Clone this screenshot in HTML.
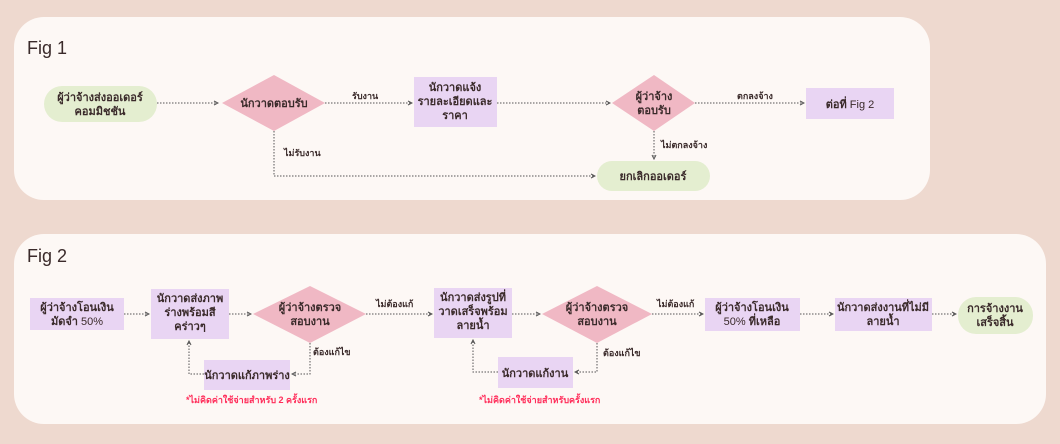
<!DOCTYPE html>
<html><head><meta charset="utf-8"><style>
html,body{margin:0;padding:0;background:#eed9cf;}
svg{display:block}
text{font-family:"Liberation Sans","DejaVu Sans",sans-serif;fill:#3a2a2a}
.b{font-weight:bold;font-size:11px}
.l{font-weight:bold;font-size:9px}
.r{font-weight:bold;font-size:9px;fill:#ff2d5a}
.ln{stroke:#555;stroke-width:1;stroke-dasharray:1.5 1.5;fill:none}
</style></head><body>
<svg width="1060" height="444" viewBox="0 0 1060 444" xmlns="http://www.w3.org/2000/svg">
<defs><marker id="a" markerWidth="6" markerHeight="6" refX="5" refY="3" orient="auto"><path d="M1,1 L5,3 L1,5" stroke="#555" fill="none" stroke-width="1"/></marker></defs>
<rect x="14" y="17" width="916" height="183" rx="30" fill="#fdf8f5"/>
<rect x="14" y="234" width="1032" height="190" rx="30" fill="#fdf8f5"/>
<text x="27" y="54" style="font-size:18px">Fig 1</text>
<text x="27" y="262" style="font-size:18px">Fig 2</text>

<!-- Fig1 -->
<rect x="44" y="86" width="113" height="36" rx="18" fill="#e4eed0"/>
<text class="b" text-anchor="middle" x="100" y="101">ผู้ว่าจ้างส่งออเดอร์</text>
<text class="b" text-anchor="middle" x="100" y="115">คอมมิชชัน</text>
<path class="ln" d="M157,103 H218" marker-end="url(#a)"/>
<polygon points="222,103 274,75 325,103 274,131" fill="#f0b8c4"/>
<text class="b" text-anchor="middle" x="274" y="107">นักวาดตอบรับ</text>
<text class="l" x="352" y="99">รับงาน</text>
<path class="ln" d="M325,103 H412" marker-end="url(#a)"/>
<rect x="414" y="77" width="83" height="50" fill="#e9d5f3"/>
<text class="b" text-anchor="middle" x="455" y="91">นักวาดแจ้ง</text>
<text class="b" text-anchor="middle" x="455" y="105">รายละเอียดและ</text>
<text class="b" text-anchor="middle" x="455" y="119">ราคา</text>
<path class="ln" d="M497,103 H610" marker-end="url(#a)"/>
<polygon points="612,103 654,75 695,103 654,131" fill="#f0b8c4"/>
<text class="b" text-anchor="middle" x="654" y="100">ผู้ว่าจ้าง</text>
<text class="b" text-anchor="middle" x="654" y="114">ตอบรับ</text>
<text class="l" x="737" y="99">ตกลงจ้าง</text>
<path class="ln" d="M695,103 H804" marker-end="url(#a)"/>
<rect x="806" y="88" width="88" height="31" fill="#e9d5f3"/>
<text class="b" text-anchor="middle" x="850" y="108">ต่อที่ <tspan style="font-weight:normal">Fig  2</tspan></text>
<path class="ln" d="M654,131 V159" marker-end="url(#a)"/>
<text class="l" x="661" y="148">ไม่ตกลงจ้าง</text>
<rect x="597" y="161" width="113" height="30" rx="15" fill="#e4eed0"/>
<text class="b" text-anchor="middle" x="653" y="180">ยกเลิกออเดอร์</text>
<path class="ln" d="M274,131 V176 H595" marker-end="url(#a)"/>
<text class="l" x="284" y="156">ไม่รับงาน</text>

<!-- Fig2 -->
<rect x="30" y="298" width="94" height="32" fill="#e9d5f3"/>
<text class="b" text-anchor="middle" x="77" y="311">ผู้ว่าจ้างโอนเงิน</text>
<text class="b" text-anchor="middle" x="77" y="325">มัดจำ <tspan style="font-weight:normal">50%</tspan></text>
<path class="ln" d="M124,314 H149" marker-end="url(#a)"/>
<rect x="151" y="289" width="78" height="50" fill="#e9d5f3"/>
<text class="b" text-anchor="middle" x="190" y="302">นักวาดส่งภาพ</text>
<text class="b" text-anchor="middle" x="190" y="316">ร่างพร้อมสี</text>
<text class="b" text-anchor="middle" x="190" y="330">คร่าวๆ</text>
<path class="ln" d="M229,314 H251" marker-end="url(#a)"/>
<polygon points="253,314 310,286 366,314 310,343" fill="#f0b8c4"/>
<text class="b" text-anchor="middle" x="310" y="311">ผู้ว่าจ้างตรวจ</text>
<text class="b" text-anchor="middle" x="310" y="325">สอบงาน</text>
<text class="l" x="376" y="307">ไม่ต้องแก้</text>
<path class="ln" d="M366,314 H432" marker-end="url(#a)"/>
<rect x="434" y="288" width="78" height="50" fill="#e9d5f3"/>
<text class="b" text-anchor="middle" x="473" y="301">นักวาดส่งรูปที่</text>
<text class="b" text-anchor="middle" x="473" y="315">วาดเสร็จพร้อม</text>
<text class="b" text-anchor="middle" x="473" y="329">ลายน้ำ</text>
<path class="ln" d="M512,314 H540" marker-end="url(#a)"/>
<polygon points="542,314 597,286 652,314 597,343" fill="#f0b8c4"/>
<text class="b" text-anchor="middle" x="597" y="311">ผู้ว่าจ้างตรวจ</text>
<text class="b" text-anchor="middle" x="597" y="325">สอบงาน</text>
<text class="l" x="657" y="307">ไม่ต้องแก้</text>
<path class="ln" d="M652,314 H703" marker-end="url(#a)"/>
<rect x="705" y="298" width="95" height="33" fill="#e9d5f3"/>
<text class="b" text-anchor="middle" x="752" y="311">ผู้ว่าจ้างโอนเงิน</text>
<text class="b" text-anchor="middle" x="752" y="325"><tspan style="font-weight:normal">50%</tspan> ที่เหลือ</text>
<path class="ln" d="M800,314 H833" marker-end="url(#a)"/>
<rect x="835" y="298" width="97" height="33" fill="#e9d5f3"/>
<text class="b" text-anchor="middle" x="883" y="311">นักวาดส่งงานที่ไม่มี</text>
<text class="b" text-anchor="middle" x="883" y="325">ลายน้ำ</text>
<path class="ln" d="M932,314 H956" marker-end="url(#a)"/>
<rect x="958" y="297" width="75" height="37" rx="18" fill="#e4eed0"/>
<text class="b" text-anchor="middle" x="995" y="312">การจ้างงาน</text>
<text class="b" text-anchor="middle" x="995" y="326">เสร็จสิ้น</text>

<path class="ln" d="M310,343 V374 H292" marker-end="url(#a)"/>
<text class="l" x="313" y="355">ต้องแก้ไข</text>
<rect x="204" y="360" width="86" height="30" fill="#e9d5f3"/>
<text class="b" text-anchor="middle" x="247" y="379">นักวาดแก้ภาพร่าง</text>
<path class="ln" d="M204,374 H189 V341" marker-end="url(#a)"/>
<text class="r" x="186" y="403">*ไม่คิดค่าใช้จ่ายสำหรับ 2 ครั้งแรก</text>

<path class="ln" d="M597,343 V372 H575" marker-end="url(#a)"/>
<text class="l" x="603" y="356">ต้องแก้ไข</text>
<rect x="498" y="357" width="75" height="31" fill="#e9d5f3"/>
<text class="b" text-anchor="middle" x="535" y="377">นักวาดแก้งาน</text>
<path class="ln" d="M498,372 H473 V340" marker-end="url(#a)"/>
<text class="r" x="479" y="403">*ไม่คิดค่าใช้จ่ายสำหรับครั้งแรก</text>
</svg>
</body></html>
